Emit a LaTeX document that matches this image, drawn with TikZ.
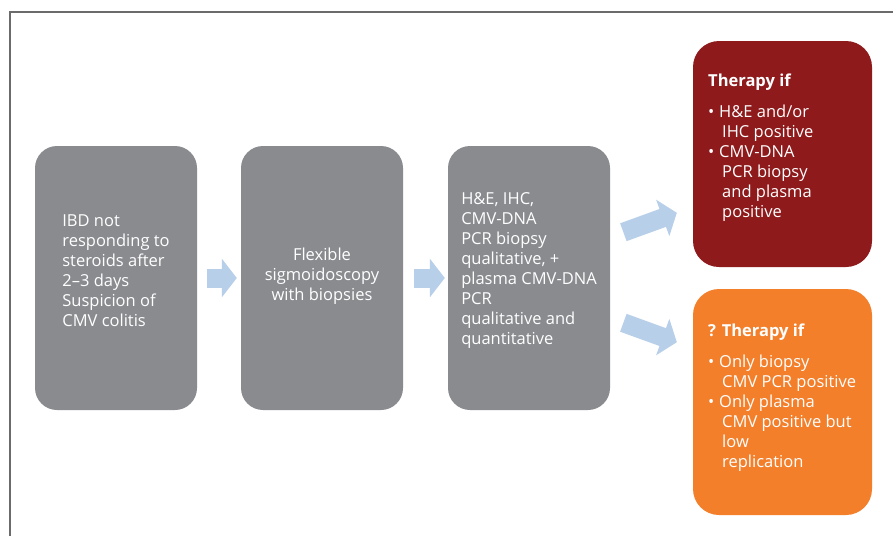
\documentclass[tikz,border=0pt]{standalone}
\usepackage{fontspec}
\setmainfont{Open Sans}
\usetikzlibrary{positioning,calc,arrows.meta}

\definecolor{boxgray}{HTML}{898B8F}
\definecolor{posred}{HTML}{8E1A1C}
\definecolor{maybeorange}{HTML}{F37F2B}
\definecolor{arrowblue}{HTML}{B8CFEA}
\definecolor{framegray}{HTML}{6B6B6B}

\tikzset{
    stepbox/.style={fill=boxgray, rounded corners=22pt, minimum width=162pt, minimum height=264pt, inner sep=0pt},
    resultbox/.style={rounded corners=26pt, minimum width=179pt, minimum height=226pt, inner sep=0pt},
    boxtext/.style={text=white, inner sep=0pt, font=\fontsize{16.5pt}{20pt}\selectfont},
    bigarrow/.style={arrowblue, line width=19pt, -{Triangle[length=15pt,width=38pt]}}
}
\newcommand{\bul}{\makebox[11pt][l]{\textbullet}}
\newcommand{\ind}{\hspace*{14pt}}

\begin{document}
\begin{tikzpicture}[x=1pt,y=-1pt]
    \useasboundingbox (0,0) rectangle (893,536);

    % Frame
    \draw[framegray, line width=1.3pt] (10,536) -- (10,12) -- (893,12);

    % Steps
    \node[stepbox] (ibd) at (116,278) {};
    \node[stepbox] (flex) at (322,278) {};
    \node[stepbox] (test) at (529,278) {};
    \node[boxtext, align=left] (ibdtext) at (116,271)
        {IBD not\\responding to\\steroids after\\2--3 days\\Suspicion of\\CMV colitis};
    \node[boxtext, align=center] (flextext) at (322,276)
        {Flexible\\sigmoidoscopy\\with biopsies};
    \node[boxtext, align=left] (testtext) at (529,270)
        {H\&E, IHC,\\CMV-DNA\\PCR biopsy\\qualitative, +\\plasma CMV-DNA\\PCR\\qualitative and\\quantitative};

    % Results
    \node[resultbox, fill=posred] (pos) at (782.5,154) {};
    \node[resultbox, fill=maybeorange] (neg) at (782.5,402) {};
    \node[boxtext, align=left, anchor=north west] (postext) at (708,74)
        {\textbf{Therapy if}\\[11pt]
         \bul H\&E and/or\\\ind IHC positive\\
         \bul CMV-DNA\\\ind PCR biopsy\\\ind and plasma\\\ind positive};
    \node[boxtext, align=left, anchor=north west] (negtext) at (708,324)
        {\textbf{? Therapy if}\\[11pt]
         \bul Only biopsy\\\ind CMV PCR positive\\
         \bul Only plasma\\\ind CMV positive but\\\ind low\\\ind replication};

    % Arrows
    \draw[bigarrow, shorten <=10pt, shorten >=4pt] (ibd.east) -- (flex.west);
    \draw[bigarrow, shorten <=11pt, shorten >=3pt] (flex.east) -- (test.west);
    \draw[bigarrow, shorten <=14pt, shorten >=17pt] ($(test.east)+(0,-41)$) -- ($(pos.west)+(0,53)$);
    \draw[bigarrow, shorten <=14pt, shorten >=17pt] ($(test.east)+(0,40)$) -- ($(neg.west)+(0,-54)$);
\end{tikzpicture}
\end{document}
